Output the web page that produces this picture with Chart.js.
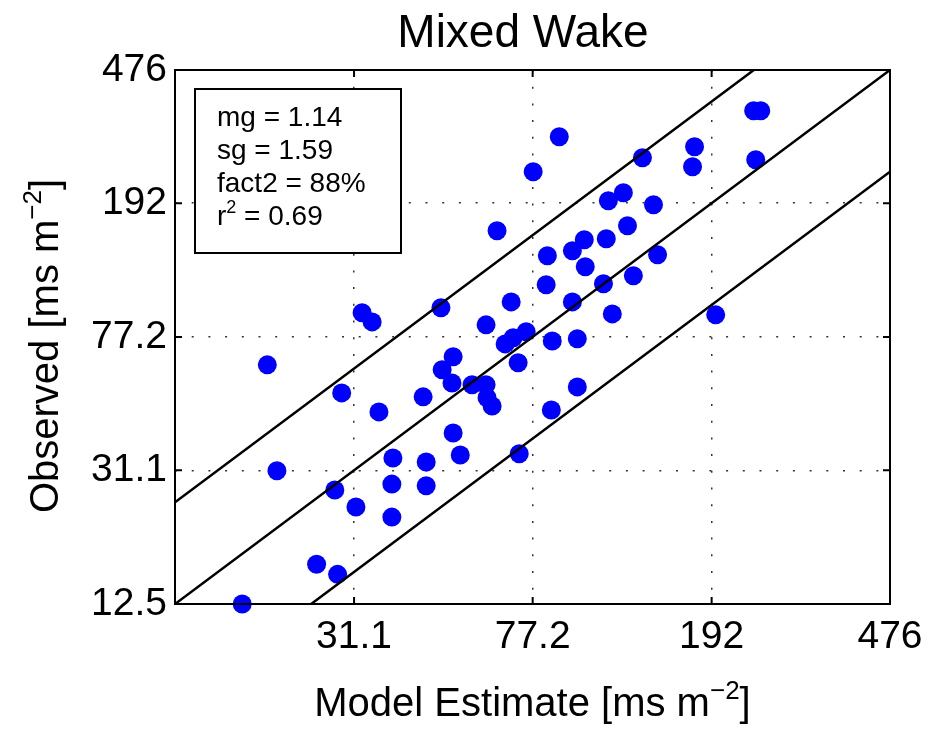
<!DOCTYPE html>
<html>
<head>
<meta charset="utf-8">
<title>Mixed Wake</title>
<script src="https://cdn.jsdelivr.net/npm/chart.js@4.4.1/dist/chart.umd.min.js"></script>
<style>
  html, body { margin: 0; padding: 0; background: #fff; }
  #wrap { width: 950px; height: 729px; }
</style>
</head>
<body>
<div id="wrap"><canvas id="myChart" width="950" height="729"></canvas></div>
<script>
// Data ------------------------------------------------------------------

const modelEstimate = [
  17.6, 20.0, 21.0, 25.7, 28.6, 28.2, 31.4, 37.7, 37.7, 37.9,
  29.2, 35.3, 32.4, 34.1, 44.9, 44.9, 44.2, 51.5, 53.4, 48.4,
  48.7, 51.5, 51.2, 56.7, 60.9, 61.2, 62.8, 72.1, 60.9, 69.2,
  71.7, 67.1, 69.9, 74.7, 64.4, 77.4, 88.4, 83.2, 82.7, 85.3,
  84.9, 94.5, 100.4, 100.9, 94.5, 96.9, 96.9, 110.7, 112.3, 115.8,
  113.5, 122.5, 125.1, 128.9, 142.8, 145.8, 135.0, 174.2, 176.0, 196.0,
  237.8, 246.5, 240.3
];
const observed = [
  12.5, 63.8, 31.0, 16.4, 15.3, 27.2, 24.2, 22.6, 28.3, 33.8,
  52.7, 46.3, 91.0, 85.5, 28.0, 32.9, 51.3, 40.1, 34.5, 94.1,
  61.7, 67.4, 56.4, 55.7, 55.7, 51.0, 48.2, 34.8, 83.8, 98.0,
  64.7, 73.6, 76.7, 79.9, 159.1, 237.9, 302.1, 134.2, 110.1, 75.1,
  46.9, 138.8, 149.7, 124.5, 98.0, 76.2, 54.9, 110.9, 150.7, 90.3,
  195.2, 206.2, 164.7, 117.1, 190.0, 135.1, 261.8, 246.2, 282.2, 89.7,
  360.7, 360.7, 258.3
];

const tickValues = [12.5, 31.1, 77.2, 192, 476];
const xTickLabels = ['', '31.1', '77.2', '192', '476'];
const yTickLabels = ['12.5', '31.1', '77.2', '192', '476'];

// 1:1 line and the factor-of-two band
const ratios = [2, 1, 0.5];

const statLines = [
  [['mg = 1.14']],
  [['sg = 1.59']],
  [['fact2 = 88%']],
  [['r'], ['2', true], [' = 0.69']]
];

const FONT = '"Liberation Sans", Arial, Helvetica, sans-serif';

// Text helpers -----------------------------------------------------------

// draws text made of pieces, some of them superscript
function drawRich(ctx, parts, x, y, size, align) {
  const supSize = Math.round(size * 0.66);
  let total = 0;
  parts.forEach(([t, sup]) => {
    ctx.font = `${sup ? supSize : size}px ${FONT}`;
    total += ctx.measureText(t).width;
  });
  let cx = align === 'center' ? x - total / 2 : x;
  ctx.textAlign = 'left';
  ctx.textBaseline = 'alphabetic';
  parts.forEach(([t, sup]) => {
    ctx.font = `${sup ? supSize : size}px ${FONT}`;
    ctx.fillText(t, cx, sup ? y - size * 0.42 : y);
    cx += ctx.measureText(t).width;
  });
}

// Frame, inward ticks, titles and stats box ------------------------------

const framePlugin = {
  id: 'framePlugin',
  afterDatasetsDraw(chart) {
    const {ctx, chartArea: {left, right, top, bottom}, scales: {x, y}} = chart;
    ctx.save();
    ctx.strokeStyle = '#000';
    ctx.lineWidth = 2;
    ctx.strokeRect(left, top, right - left, bottom - top);

    ctx.beginPath();
    tickValues.forEach(v => {
      const px = x.getPixelForValue(v);
      const py = y.getPixelForValue(v);
      ctx.moveTo(px, bottom); ctx.lineTo(px, bottom - 7);
      ctx.moveTo(px, top); ctx.lineTo(px, top + 7);
      ctx.moveTo(left, py); ctx.lineTo(left + 7, py);
      ctx.moveTo(right, py); ctx.lineTo(right - 7, py);
    });
    ctx.stroke();
    ctx.restore();
  },
  afterDraw(chart) {
    const {ctx, chartArea: {left, right, top, bottom}} = chart;
    ctx.save();
    ctx.fillStyle = '#000';

    // title
    ctx.font = `46px ${FONT}`;
    ctx.textAlign = 'center';
    ctx.textBaseline = 'alphabetic';
    ctx.fillText('Mixed Wake', 523, 47);

    // x axis title
    drawRich(ctx, [['Model Estimate [ms m'], ['\u22122', true], [']']],
      (left + right) / 2, 716, 40, 'center');

    // y axis title
    ctx.save();
    ctx.translate(58, 346);
    ctx.rotate(-Math.PI / 2);
    drawRich(ctx, [['Observed [ms m'], ['\u22122', true], [']']], 0, 0, 40, 'center');
    ctx.restore();

    // stats box
    const bx = left + 20, by = top + 19;
    ctx.strokeStyle = '#000';
    ctx.lineWidth = 2;
    ctx.fillStyle = '#fff';
    ctx.fillRect(bx, by, 206, 164);
    ctx.strokeRect(bx, by, 206, 164);
    ctx.fillStyle = '#000';
    statLines.forEach((parts, i) => {
      drawRich(ctx, parts, bx + 22, by + 37 + i * 33, 28, 'left');
    });
    ctx.restore();
  }
};

// Datasets ---------------------------------------------------------------

const points = modelEstimate.map((v, i) => ({x: v, y: observed[i]}));

const lineSets = ratios.map(r => ({
  type: 'line',
  data: [{x: tickValues[0], y: tickValues[0] * r},
         {x: tickValues[tickValues.length - 1], y: tickValues[tickValues.length - 1] * r}],
  borderColor: '#000',
  borderWidth: 2.5,
  pointRadius: 0,
  fill: false,
  order: 0
}));

const scatterSet = {
  type: 'scatter',
  data: points,
  backgroundColor: '#0000ff',
  borderWidth: 0,
  pointRadius: 9.5,
  pointHoverRadius: 9.5,
  clip: false,
  order: 1
};

const axisCommon = {
  type: 'logarithmic',
  min: tickValues[0],
  max: tickValues[tickValues.length - 1],
  afterBuildTicks: scale => {
    scale.ticks = tickValues.map(v => ({value: v}));
  },
  grid: {
    color: '#333',
    lineWidth: 1.5,
    drawTicks: false
  },
  border: {
    display: false,
    dash: [2, 14.7]
  }
};

const config = {
  type: 'scatter',
  data: {datasets: [...lineSets, scatterSet]},
  options: {
    responsive: false,
    animation: false,
    events: [],
    layout: {
      padding: {top: 70, right: 60, left: 0, bottom: 0}
    },
    plugins: {
      legend: {display: false},
      tooltip: {enabled: false},
      title: {display: false}
    },
    scales: {
      x: {
        ...axisCommon,
        position: 'bottom',
        afterFit: scale => { scale.height = 125; },
        ticks: {
          autoSkip: false,
          maxRotation: 0,
          padding: 10,
          color: '#000',
          font: {family: FONT, size: 39},
          callback: (v, i) => xTickLabels[i]
        }
      },
      y: {
        ...axisCommon,
        position: 'left',
        afterFit: scale => { scale.width = 175; },
        ticks: {
          autoSkip: false,
          padding: 8,
          color: '#000',
          font: {family: FONT, size: 39},
          callback: (v, i) => yTickLabels[i]
        }
      }
    }
  },
  plugins: [framePlugin]
};

const myChart = new Chart(document.getElementById('myChart'), config);
</script>
</body>
</html>
